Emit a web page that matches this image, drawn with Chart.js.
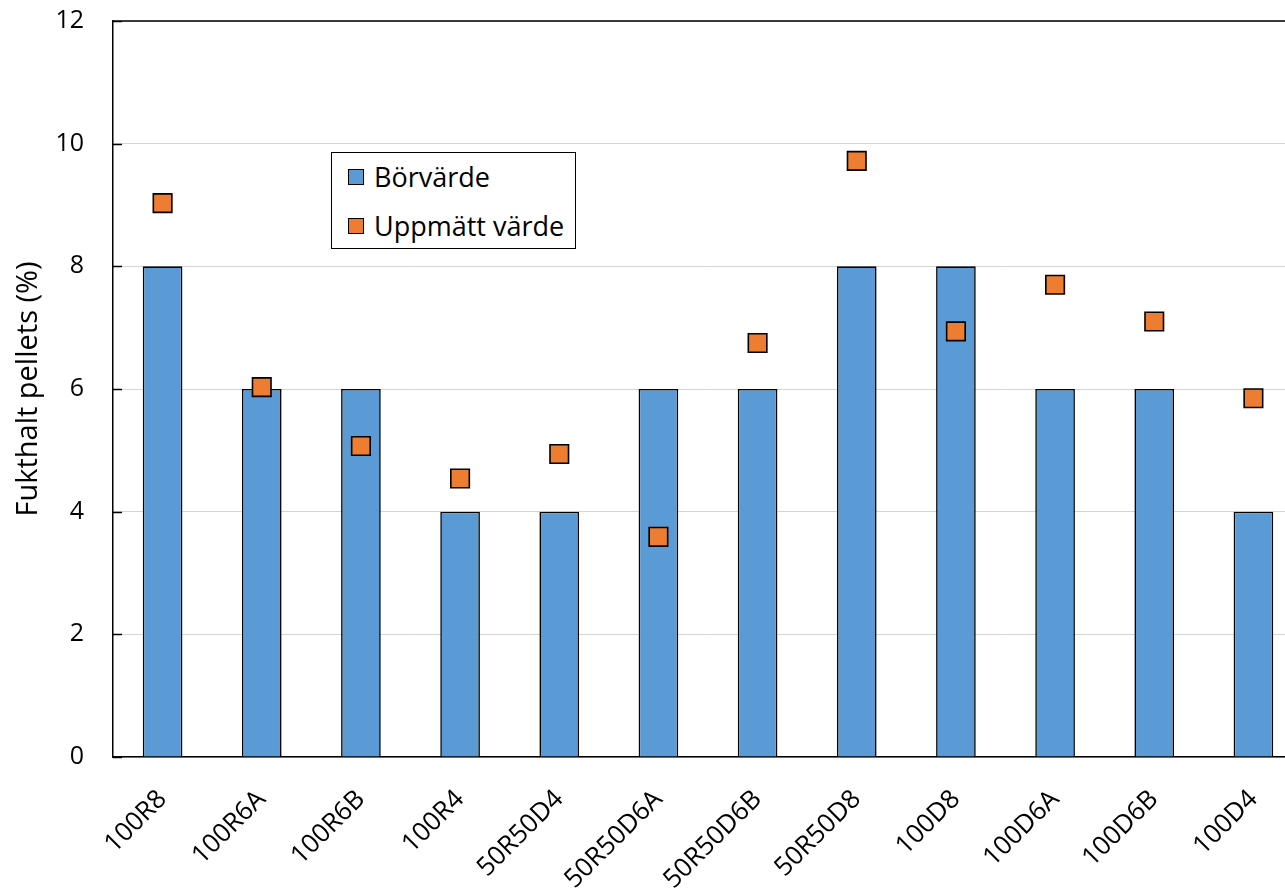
<!DOCTYPE html>
<html lang="sv">
<head>
<meta charset="utf-8">
<title>Fukthalt pellets</title>
<script src="https://cdn.jsdelivr.net/npm/chart.js@4.4.1/dist/chart.umd.min.js"></script>
<style>
  html, body { margin: 0; padding: 0; background: #fff; overflow: hidden; }
  #wrap { position: absolute; left: 0; top: 0; width: 1303px; height: 888px; }
  #chart { display: block; }
  #legend {
    position: absolute; left: 331px; top: 152px; width: 243px; height: 95px;
    border: 1.5px solid #000; background: #fff;
    font-family: "Open Sans", sans-serif; font-size: 27px; color: #000;
  }
  #legend .item { position: absolute; left: 16px; display: flex; align-items: center; }
  #legend .box { width: 16px; height: 16px; border: 1.5px solid #000; margin-right: 10px; box-sizing: border-box; }
</style>
</head>
<body>
<div id="wrap">
  <canvas id="chart" width="1303" height="888"></canvas>
  <div id="legend"></div>
</div>
<script>
// Prover och fukthalter
const categories = ['100R8', '100R6A', '100R6B', '100R4', '50R50D4', '50R50D6A',
                    '50R50D6B', '50R50D8', '100D8', '100D6A', '100D6B', '100D4'];
const borvarde = [8, 6, 6, 4, 4, 6, 6, 8, 8, 6, 6, 4];
const uppmattVarde = [9.03, 6.03, 5.07, 4.54, 4.94, 3.59, 6.75, 9.72, 6.94, 7.70, 7.10, 5.85];
const yTicks = [0, 2, 4, 6, 8, 10, 12];

const blue = '#5b9bd5';
const orange = '#ed7d31';
const font = '"Open Sans", sans-serif';

// Inåtriktade skalstreck och övre ram
const frame = {
    id: 'frame',
    afterDraw(chart) {
        const { ctx, chartArea } = chart;
        const y = chart.scales.y;
        ctx.save();
        ctx.strokeStyle = '#000';
        ctx.lineWidth = 1.5;
        ctx.beginPath();
        ctx.moveTo(chartArea.left, chartArea.top);
        ctx.lineTo(chartArea.right, chartArea.top);
        yTicks.forEach(v => {
            const py = Math.round(y.getPixelForValue(v)) + 0.5;
            ctx.moveTo(chartArea.left, py);
            ctx.lineTo(chartArea.left + 9, py);
        });
        ctx.stroke();
        ctx.restore();
    }
};

const chart = new Chart(document.getElementById('chart'), {
    data: {
        labels: categories,
        datasets: [
            {
                type: 'line',
                label: 'Uppmätt värde',
                data: uppmattVarde,
                showLine: false,
                pointStyle: 'rect',
                pointRadius: 13.1,
                pointHoverRadius: 13.1,
                backgroundColor: orange,
                borderColor: '#000',
                pointBorderWidth: 1.6,
                order: 0
            },
            {
                type: 'bar',
                label: 'Börvärde',
                data: borvarde,
                backgroundColor: blue,
                borderColor: '#000',
                borderWidth: 1.6,
                categoryPercentage: 1,
                barPercentage: 0.4,
                order: 1
            }
        ]
    },
    options: {
        responsive: false,
        animation: false,
        layout: { autoPadding: false, padding: { top: 21, right: 0, left: 0, bottom: 0 } },
        plugins: {
            legend: { display: false },
            tooltip: { enabled: false }
        },
        scales: {
            x: {
                offset: true,
                grid: { display: false },
                border: { display: true, color: '#000', width: 1.5 },
                ticks: {
                    color: '#000',
                    font: { family: font, size: 26 },
                    minRotation: 45,
                    maxRotation: 45,
                    padding: 19,
                    autoSkip: false
                },
                afterFit: scale => {
                    scale.height = 131;
                    scale.paddingLeft = 0;
                    scale.paddingRight = 0;
                }
            },
            y: {
                min: 0,
                max: 12,
                afterBuildTicks: scale => { scale.ticks = yTicks.map(v => ({ value: v })); },
                grid: { color: '#d4d4d4', lineWidth: 1, drawTicks: false },
                border: { display: true, color: '#000', width: 1.5 },
                ticks: {
                    color: '#000',
                    font: { family: font, size: 25 },
                    padding: 29
                },
                title: {
                    display: true,
                    text: 'Fukthalt pellets (%)',
                    color: '#000',
                    font: { family: font, size: 29 },
                    padding: { top: 11, bottom: 0 }
                },
                afterFit: scale => {
                    scale.width = 113;
                    scale.paddingTop = 0;
                    scale.paddingBottom = 0;
                }
            }
        }
    },
    plugins: [frame]
});

// Förklaring byggd från dataserierna
const legendEl = document.getElementById('legend');
['Börvärde', 'Uppmätt värde'].forEach((name, i) => {
    const ds = chart.data.datasets.find(d => d.label === name);
    const item = document.createElement('div');
    item.className = 'item';
    item.style.top = (i === 0 ? 5 : 54) + 'px';
    const box = document.createElement('span');
    box.className = 'box';
    box.style.background = ds.backgroundColor;
    const text = document.createElement('span');
    text.textContent = name;
    item.appendChild(box);
    item.appendChild(text);
    legendEl.appendChild(item);
});
</script>
</body>
</html>
